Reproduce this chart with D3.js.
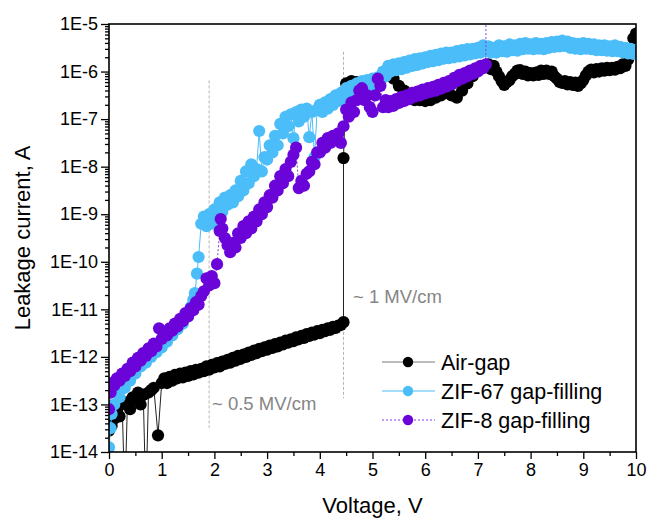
<!DOCTYPE html>
<html>
<head>
<meta charset="utf-8">
<script src="https://cdn.jsdelivr.net/npm/d3@7"></script>
<style>
  body { margin: 0; background: #fff; }
  svg text { font-family: "Liberation Sans", Arial, sans-serif; }
</style>
</head>
<body>
<div id="main"></div>
<script>
// series, current stored as log10(I / A)
var airV = [0, 0.05, 0.1, 0.15, 0.2, 0.25, 0.3, 0.35, 0.4, 0.45, 0.5, 0.55, 0.6, 0.65, 0.7, 0.75, 0.8, 0.85, 0.93,
    1.0, 1.05, 1.1, 1.15, 1.2, 1.25, 1.3, 1.35, 1.4, 1.45, 1.5, 1.55, 1.6, 1.65, 1.7, 1.75, 1.8, 1.85, 1.9, 1.95,
    2.0, 2.05, 2.1, 2.15, 2.2, 2.25, 2.3, 2.35, 2.4, 2.45, 2.5, 2.55, 2.6, 2.65, 2.7, 2.75, 2.8, 2.85, 2.9, 2.95,
    3.0, 3.05, 3.1, 3.15, 3.2, 3.25, 3.3, 3.35, 3.4, 3.45, 3.5, 3.55, 3.6, 3.65, 3.7, 3.75, 3.8, 3.85, 3.9, 3.95,
    4.0, 4.05, 4.1, 4.15, 4.2, 4.25, 4.3, 4.35, 4.4, 4.45, 4.45, 4.5, 4.6, 4.7, 4.8,
    4.9, 5.0, 5.1, 5.2, 5.3, 5.4, 5.5, 5.6, 5.7, 5.8, 5.9, 6.0, 6.1, 6.2, 6.3, 6.4, 6.5, 6.6, 6.7, 6.8, 6.9, 7.0, 7.1,
    7.2, 7.25, 7.3, 7.35, 7.4, 7.45, 7.5, 7.55, 7.6, 7.65, 7.7, 7.75, 7.8, 7.85, 7.9, 7.95,
    8.0, 8.05, 8.1, 8.15, 8.2, 8.25, 8.3, 8.35, 8.4, 8.45, 8.5, 8.55, 8.6, 8.65, 8.7, 8.75, 8.8, 8.85, 8.9, 8.95,
    9.0, 9.05, 9.1, 9.15, 9.2, 9.25, 9.3, 9.35, 9.4, 9.45, 9.5, 9.55, 9.6, 9.65, 9.7, 9.75, 9.8, 9.85, 9.9, 9.95, 10.0];
var airLogI = [-13.55, -13.45, -13.3, -13.1, -13.25, -13.0, -15, -12.95, -13.1, -12.85, -12.9, -12.75, -13.0, -12.8, -15, -12.75, -12.7, -12.65, -13.65,
    -12.55, -12.45, -12.55, -12.42, -12.5, -12.38, -12.45, -12.35, -12.43, -12.33, -12.4, -12.3, -12.37, -12.27, -12.33, -12.25, -12.3, -12.2, -12.27, -12.17,
    -12.22, -12.13, -12.2, -12.1, -12.15, -12.06, -12.12, -12.02, -12.08, -11.98, -12.04, -11.95, -12.0, -11.91, -11.96, -11.87, -11.92, -11.83, -11.88, -11.8,
    -11.85, -11.76, -11.81, -11.73, -11.78, -11.7, -11.74, -11.66, -11.7, -11.63, -11.67, -11.59, -11.63, -11.56, -11.6, -11.52, -11.56, -11.49, -11.53, -11.46,
    -11.5, -11.43, -11.46, -11.4, -11.43, -11.37, -11.39, -11.34, -11.33, -11.27, -7.82, -6.25, -6.2, -6.22, -6.25,
    -6.3, -6.25, -6.15, -6.08, -6.07, -6.15, -6.3, -6.4, -6.55, -6.6, -6.6, -6.62, -6.6, -6.55, -6.5, -6.45, -6.5, -6.55, -6.4, -6.25, -6.1, -5.95, -5.9,
    -5.85, -5.95, -5.88, -6.0, -6.1, -6.2, -6.28, -6.22, -6.18, -6.1, -6.05, -5.98, -5.97, -6.05, -6.0, -6.08,
    -6.03, -6.08, -6.02, -6.07, -5.98, -6.05, -5.98, -6.05, -6.0, -6.1, -6.15, -6.22, -6.24, -6.2, -6.27, -6.22, -6.28, -6.23, -6.3, -6.25,
    -6.18, -6.08, -6.0, -5.96, -6.02, -5.95, -6.0, -5.93, -5.98, -5.92, -5.97, -5.92, -5.96, -5.9, -5.93, -5.85, -5.88, -5.75, -5.65, -5.3, -5.2];

var zif67V = [0, 0.03, 0.05, 0.1, 0.15, 0.2, 0.25, 0.3, 0.35, 0.4, 0.45, 0.5, 0.55, 0.6, 0.65, 0.7, 0.75, 0.8, 0.85, 0.9,
    0.95, 1.0, 1.05, 1.1, 1.15, 1.2, 1.25, 1.3, 1.35, 1.4, 1.45, 1.5, 1.55, 1.6, 1.63, 1.67,
    1.7, 1.75, 1.8, 1.85, 1.9, 1.95, 2.0, 2.05, 2.1, 2.15, 2.2, 2.25, 2.3, 2.35, 2.4, 2.45, 2.5, 2.55, 2.6, 2.65,
    2.7, 2.75, 2.8, 2.85, 2.9, 2.95, 3.0, 3.05, 3.1, 3.15, 3.2, 3.25, 3.3, 3.35, 3.4, 3.45, 3.5, 3.55, 3.6, 3.65,
    3.7, 3.75, 3.8, 3.85, 3.9, 3.95, 4.0, 4.05, 4.1, 4.15, 4.2, 4.25, 4.3, 4.35, 4.4, 4.45,
    4.5, 4.55, 4.6, 4.65, 4.7, 4.75, 4.8, 4.85, 4.9, 4.95, 5.0, 5.05, 5.1, 5.15, 5.2, 5.25, 5.3, 5.35, 5.4, 5.45,
    5.5, 5.55, 5.6, 5.65, 5.7, 5.75, 5.8, 5.85, 5.9, 5.95, 6.0, 6.05, 6.1, 6.15, 6.2, 6.25, 6.3, 6.35, 6.4, 6.45,
    6.5, 6.55, 6.6, 6.65, 6.7, 6.75, 6.8, 6.85, 6.9, 6.95, 7.0, 7.05, 7.1, 7.15, 7.2, 7.25, 7.3, 7.35, 7.4, 7.45,
    7.5, 7.55, 7.6, 7.65, 7.7, 7.75, 7.8, 7.85, 7.9, 7.95, 8.0, 8.05, 8.1, 8.15, 8.2, 8.25, 8.3, 8.35, 8.4, 8.45,
    8.5, 8.55, 8.6, 8.65, 8.7, 8.75, 8.8, 8.85, 8.9, 8.95, 9.0, 9.05, 9.1, 9.15, 9.2, 9.25, 9.3, 9.35, 9.4, 9.45,
    9.5, 9.55, 9.6, 9.65, 9.7, 9.75, 9.8, 9.85, 9.9, 9.95, 10.0];
var zif67LogI = [-13.9, -13.5, -13.2, -13.0, -12.75, -12.85, -12.6, -12.65, -12.45, -12.5, -12.3, -12.35, -12.15, -12.2, -12.05, -12.12, -11.95, -12.0, -11.85, -11.9,
    -11.72, -11.8, -11.62, -11.68, -11.5, -11.55, -11.38, -11.42, -11.25, -11.3, -11.12, -11.15, -10.95, -10.8, -10.66, -10.25,
    -9.9, -9.2, -9.05, -9.25, -9.0, -9.2, -8.9, -9.05, -8.75, -8.95, -8.65, -8.8, -8.6, -8.75, -8.5, -8.62, -8.3, -8.5, -8.1, -8.35,
    -7.95, -8.2, -8.05, -7.25, -8.1, -7.8, -7.85, -7.55, -7.7, -7.35, -7.55, -7.1, -7.3, -6.95, -7.15, -6.9, -7.4, -6.85, -7.05, -6.8,
    -6.95, -6.78, -7.38, -6.85, -7.8, -6.8, -6.7, -6.85, -6.65, -6.78, -6.58, -6.7, -6.5, -6.62, -6.45, -6.58,
    -6.35, -6.5, -6.3, -6.45, -6.25, -6.38, -6.2, -6.33, -6.18, -6.3, -6.15, -6.3, -6.12, -6.22, -6.0, -6.1, -5.88, -6.0, -5.85, -5.97,
    -5.83, -5.95, -5.8, -5.92, -5.77, -5.88, -5.74, -5.86, -5.72, -5.83, -5.7, -5.8, -5.67, -5.78, -5.65, -5.76, -5.62, -5.73, -5.6, -5.72,
    -5.6, -5.7, -5.57, -5.68, -5.55, -5.66, -5.53, -5.64, -5.52, -5.62, -5.5, -5.6, -5.45, -5.57, -5.47, -5.6, -5.5, -5.6, -5.45, -5.57,
    -5.47, -5.58, -5.43, -5.55, -5.45, -5.56, -5.42, -5.53, -5.4, -5.52, -5.43, -5.53, -5.4, -5.52, -5.42, -5.53, -5.4, -5.5, -5.38, -5.48,
    -5.37, -5.47, -5.35, -5.46, -5.37, -5.5, -5.4, -5.52, -5.42, -5.53, -5.4, -5.52, -5.42, -5.53, -5.43, -5.55, -5.45, -5.55, -5.45, -5.56,
    -5.47, -5.57, -5.45, -5.57, -5.48, -5.6, -5.5, -5.62, -5.52, -5.63, -5.58];

var zif8V = [0, 0.03, 0.05, 0.1, 0.15, 0.2, 0.25, 0.3, 0.35, 0.4, 0.45, 0.5, 0.55, 0.6, 0.65, 0.7, 0.75, 0.8, 0.85, 0.9,
    0.95, 1.0, 1.05, 1.1, 1.15, 1.2, 1.25, 1.3, 1.35, 1.4, 1.45, 1.5, 1.55, 1.6, 1.65, 1.7, 1.75,
    1.8, 1.85, 1.9, 1.95, 2.0, 2.05, 2.1, 2.12, 2.15, 2.2, 2.25, 2.3, 2.35, 2.4, 2.45, 2.5, 2.55, 2.6, 2.65, 2.7,
    2.75, 2.8, 2.85, 2.9, 2.95, 3.0, 3.05, 3.1, 3.15, 3.2, 3.25, 3.3, 3.35, 3.4, 3.45, 3.5, 3.55, 3.6, 3.65, 3.7,
    3.75, 3.8, 3.85, 3.9, 3.95, 4.0, 4.05, 4.1, 4.15, 4.2, 4.25, 4.3, 4.35, 4.4, 4.45,
    4.5, 4.55, 4.6, 4.65, 4.7, 4.75, 4.8, 4.85, 4.9, 4.95, 5.0, 5.05, 5.1, 5.15, 5.2, 5.25, 5.3, 5.35, 5.4, 5.45,
    5.5, 5.55, 5.6, 5.65, 5.7, 5.75, 5.8, 5.85, 5.9, 5.95, 6.0, 6.05, 6.1, 6.15, 6.2, 6.25, 6.3, 6.35, 6.4, 6.45,
    6.5, 6.55, 6.6, 6.65, 6.7, 6.75, 6.8, 6.85, 6.9, 6.95, 7.0, 7.05, 7.1, 7.15, 7.16];
var zif8LogI = [-13.1, -12.75, -12.55, -12.6, -12.45, -12.5, -12.35, -12.4, -12.25, -12.3, -12.12, -12.2, -12.02, -12.08, -11.92, -11.98, -11.82, -11.88, -11.72, -11.78,
    -11.4, -11.62, -11.5, -11.55, -11.4, -11.45, -11.3, -11.36, -11.2, -11.25, -11.08, -11.15, -10.98, -11.02, -10.85, -10.9, -10.72,
    -10.62, -10.35, -10.5, -10.3, -10.45, -10.05, -9.35, -9.1, -9.3, -9.5, -9.65, -9.8, -9.6, -9.7, -9.4, -9.5, -9.25, -9.4, -9.15, -9.3,
    -9.05, -9.15, -8.9, -9.0, -8.75, -8.85, -8.6, -8.65, -8.4, -8.5, -8.2, -8.35, -8.05, -8.2, -7.9, -7.75, -7.6, -8.45, -8.3, -8.4,
    -8.15, -8.1, -7.9, -7.95, -7.7, -7.7, -7.5, -7.6, -7.4, -7.5, -7.35, -7.45, -7.3, -7.5, -7.15,
    -6.8, -6.95, -6.65, -6.85, -6.6, -6.4, -6.35, -6.6, -6.5, -6.75, -6.85, -6.5, -6.15, -6.3, -6.75, -6.6, -6.75, -6.62, -6.72, -6.58,
    -6.66, -6.53, -6.62, -6.5, -6.58, -6.45, -6.53, -6.42, -6.5, -6.38, -6.46, -6.35, -6.43, -6.32, -6.4, -6.28, -6.36, -6.24, -6.32, -6.2,
    -6.27, -6.13, -6.2, -6.07, -6.15, -6.03, -6.1, -5.98, -6.05, -5.93, -6.0, -5.88, -5.93, -5.85, -3];

var seriesNames = ["Air-gap", "ZIF-67 gap-filling", "ZIF-8 gap-filling"];
var xTicks = [0, 1, 2, 3, 4, 5, 6, 7, 8, 9, 10];
var xMinorTicks = [0.5, 1.5, 2.5, 3.5, 4.5, 5.5, 6.5, 7.5, 8.5, 9.5];
var yTicks = [1e-14, 1e-13, 1e-12, 1e-11, 1e-10, 1e-9, 1e-8, 1e-7, 1e-6, 1e-5];
var yTickLabels = ["1E-14", "1E-13", "1E-12", "1E-11", "1E-10", "1E-9", "1E-8", "1E-7", "1E-6", "1E-5"];
// field markers: voltage, vertical extent (A), label
var fieldV = [1.9, 4.45];
var fieldTop = [6.5e-7, 2.6e-6];
var fieldBottom = [3.2e-14, 1.35e-13];
var fieldLabels = ["~ 0.5 MV/cm", "~ 1 MV/cm"];

var ctx = {
    w: 648,
    h: 519,
    left: 109,
    right: 636,
    top: 24,
    bottom: 452,
    R: 6.1,
    colors: ["#000000", "#4bbdf9", "#6a04d9"],
    lineColors: ["#222222", "#4bbdf9", "#8a3de6"],
    dash: [null, null, "2,2"],
};

var toPoints = function(vs, logs) {
    return vs.map(function(v, i) { return {v: v, i: Math.pow(10, logs[i])}; });
};

var initScales = function() {
    ctx.xScale = d3.scaleLinear().domain([0, 10]).range([ctx.left, ctx.right]);
    ctx.yScale = d3.scaleLog().domain([1e-14, 1e-5]).range([ctx.bottom, ctx.top]);
};

var drawAxes = function(svg) {
    var g = svg.append("g").attr("id", "axesG");
    // minor ticks first
    var minorY = [];
    yTicks.slice(0, -1).forEach(function(t) {
        for (var k = 2; k <= 9; k++) { minorY.push(t * k); }
    });
    g.append("g")
        .attr("transform", "translate(" + ctx.left + ",0)")
        .call(d3.axisLeft(ctx.yScale).tickValues(minorY).tickSize(4).tickSizeOuter(0).tickFormat(""));
    g.append("g")
        .attr("transform", "translate(" + ctx.left + ",0)")
        .call(d3.axisLeft(ctx.yScale).tickValues(yTicks).tickSize(8).tickSizeOuter(0).tickPadding(3)
            .tickFormat(function(d, i) { return yTickLabels[i]; }));
    g.append("g")
        .attr("transform", "translate(0," + ctx.bottom + ")")
        .call(d3.axisBottom(ctx.xScale).tickValues(xMinorTicks).tickSize(4).tickSizeOuter(0).tickFormat(""));
    g.append("g")
        .attr("transform", "translate(0," + ctx.bottom + ")")
        .call(d3.axisBottom(ctx.xScale).tickValues(xTicks).tickSize(7).tickSizeOuter(0).tickPadding(4));
    g.selectAll(".domain").remove();
    g.selectAll(".tick line").style("stroke", "#000").style("stroke-width", 1.3);
    g.selectAll(".tick text")
        .style("font-family", "'Liberation Sans', Arial, sans-serif")
        .style("font-size", "18px")
        .style("fill", "#000");
    // frame
    svg.append("rect")
        .attr("x", ctx.left)
        .attr("y", ctx.top)
        .attr("width", ctx.right - ctx.left)
        .attr("height", ctx.bottom - ctx.top)
        .style("fill", "none")
        .style("stroke", "#000")
        .style("stroke-width", 1.6);
    // axis titles
    svg.append("text")
        .attr("x", (ctx.left + ctx.right) / 2)
        .attr("y", 513)
        .style("text-anchor", "middle")
        .style("font-size", "22px")
        .text("Voltage, V");
    svg.append("text")
        .attr("transform", "translate(30," + ((ctx.top + ctx.bottom) / 2) + ") rotate(-90)")
        .style("text-anchor", "middle")
        .style("font-size", "22px")
        .text("Leakage current, A");
};

var drawFieldMarkers = function(g) {
    fieldV.forEach(function(v, i) {
        g.append("line")
            .attr("x1", ctx.xScale(v)).attr("x2", ctx.xScale(v))
            .attr("y1", ctx.yScale(fieldTop[i])).attr("y2", ctx.yScale(fieldBottom[i]))
            .style("stroke", "#b4b4b4")
            .style("stroke-width", 1)
            .style("stroke-dasharray", "3,2");
    });
};

var drawSeries = function(g, pts, idx) {
    var line = d3.line()
        .x(function(d) { return ctx.xScale(d.v); })
        .y(function(d) { return ctx.yScale(d.i); });
    g.append("path")
        .datum(pts)
        .attr("d", line)
        .style("fill", "none")
        .style("stroke", ctx.lineColors[idx])
        .style("stroke-width", 1)
        .style("stroke-dasharray", ctx.dash[idx]);
    g.selectAll("circle.s" + idx)
        .data(pts)
        .enter()
        .append("circle")
        .attr("class", "s" + idx)
        .attr("cx", function(d) { return ctx.xScale(d.v); })
        .attr("cy", function(d) { return ctx.yScale(d.i); })
        .attr("r", ctx.R)
        .style("fill", ctx.colors[idx]);
};

var drawLegend = function(svg) {
    var lg = svg.append("g").attr("id", "legendG");
    seriesNames.forEach(function(name, i) {
        var y = 362 + i * 29;
        lg.append("line")
            .attr("x1", 382).attr("x2", 435)
            .attr("y1", y).attr("y2", y)
            .style("stroke", i == 0 ? "#777" : ctx.lineColors[i])
            .style("stroke-width", 1)
            .style("stroke-dasharray", ctx.dash[i]);
        lg.append("circle")
            .attr("cx", 408).attr("cy", y).attr("r", 5.2)
            .style("fill", ctx.colors[i]);
        lg.append("text")
            .attr("x", 441).attr("y", y + 7.5)
            .style("font-size", "21.5px")
            .style("fill", "#000")
            .text(name);
    });
};

var createViz = function() {
    initScales();
    var svg = d3.select("#main").append("svg")
        .attr("width", ctx.w)
        .attr("height", ctx.h);
    svg.append("defs").append("clipPath").attr("id", "plotClip")
        .append("rect")
        .attr("x", ctx.left).attr("y", ctx.top)
        .attr("width", ctx.right - ctx.left).attr("height", ctx.bottom - ctx.top);
    var plotG = svg.append("g").attr("clip-path", "url(#plotClip)");
    drawFieldMarkers(plotG);
    drawSeries(plotG, toPoints(airV, airLogI), 0);
    drawSeries(plotG, toPoints(zif67V, zif67LogI), 1);
    drawSeries(plotG, toPoints(zif8V, zif8LogI), 2);
    // field labels
    svg.append("text").attr("x", 212).attr("y", 410)
        .style("font-size", "18.5px").style("fill", "#858585").text(fieldLabels[0]);
    svg.append("text").attr("x", 353).attr("y", 303)
        .style("font-size", "18.5px").style("fill", "#858585").text(fieldLabels[1]);
    drawAxes(svg);
    drawLegend(svg);
};

createViz();
</script>
</body>
</html>
